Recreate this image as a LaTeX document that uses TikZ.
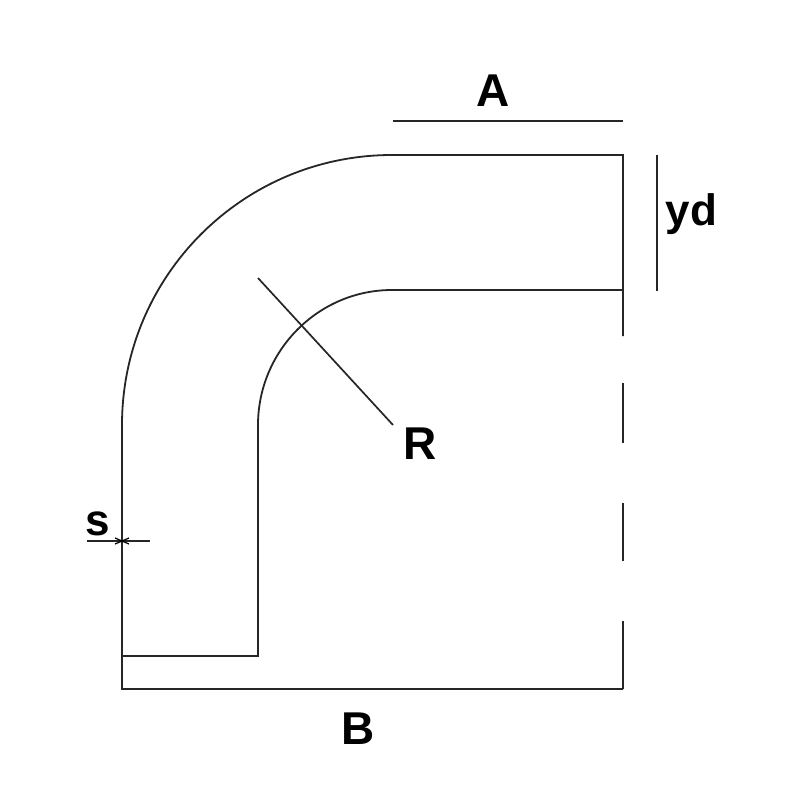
\documentclass[tikz,border=0pt]{standalone}
\usepackage{fontspec}
\setmainfont{Liberation Sans}
\tikzset{
  part/.style={line width=1.8pt,color=black!85,line cap=butt,line join=miter},
  dim/.style={line width=1.7pt,color=black!85},
  tick/.style={line width=1.2pt,color=black},
  lbl/.style={font=\fontsize{46}{46}\selectfont\bfseries,inner sep=0pt,text=black},
  lblyd/.style={font=\fontsize{44}{44}\selectfont\bfseries,inner sep=0pt,text=black},
  lblsmall/.style={font=\fontsize{44}{44}\selectfont\bfseries,inner sep=0pt,text=black}
}
\begin{document}
\begin{tikzpicture}[x=1pt,y=-1pt]
\useasboundingbox[fill=white] (0,0) rectangle (800,800);
% key points
\coordinate (oa) at (122,689);
\coordinate (ob) at (623,689);
\coordinate (oc) at (122,425);
\coordinate (od) at (392,155);
\coordinate (oe) at (623,155);
\coordinate (ia) at (122,656);
\coordinate (ib) at (258,656);
\coordinate (ic) at (258,425);
\coordinate (id) at (392,290);
\coordinate (ie) at (623,290);
% outer contour
\draw[part] (ob) -- (oa) -- (oc) .. controls (122,276) and (243,155) .. (od) -- (oe) -- (623,336);
% inner contour
\draw[part] (ia) -- (ib) -- (ic) .. controls (258,351) and (318,290) .. (id) -- (ie);
% broken right side
\draw[part] (623,383) -- (623,443);
\draw[part] (623,503) -- (623,561);
\draw[part] (623,621) -- (ob);
% dimension A
\coordinate (aL) at (393,121);
\coordinate (aR) at (623,121);
\draw[dim] (aL) -- (aR);
\node[lbl] (A) at (493,91) {A};
% dimension yd
\coordinate (yT) at (657,155);
\coordinate (yB) at (657,291);
\draw[dim] (yT) -- (yB);
\node[lblyd] (yd) at (691.5,214) {yd};
% radius
\coordinate (r0) at (258,278);
\coordinate (r1) at (393,425);
\draw[dim] (r0) -- (r1);
\node[lbl] (R) at (420.5,444) {R};
% bottom label
\node[lbl] (B) at (358,729) {B};
% wall thickness
\coordinate (sL) at (87,541);
\coordinate (sR) at (150,541);
\draw[dim] (sL) -- (sR);
\draw[tick] (115,538) -- (122,541) -- (115,544);
\draw[tick] (129,538) -- (122,541) -- (129,544);
\node[lblsmall] (s) at (97.5,524) {s};
\end{tikzpicture}
\end{document}
